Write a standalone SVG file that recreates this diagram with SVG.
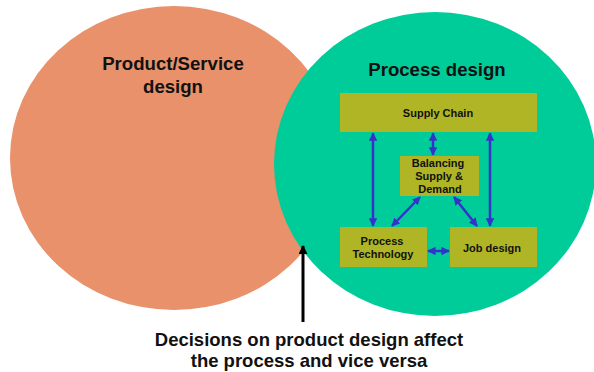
<svg xmlns="http://www.w3.org/2000/svg" width="594" height="372" viewBox="0 0 594 372">
  <style>
    .lbl { font-family: "Liberation Sans", Arial, sans-serif; font-weight: bold; fill: #111; text-anchor: middle; }
    .big { font-size: 18.6px; }
    .box { fill: #AFB525; }
    .boxtxt { font-size: 11px; }
    .cap { font-size: 18.5px; }
    .link { stroke: #3333CC; stroke-width: 2.5; fill: none; marker-start: url(#ah); marker-end: url(#ah); }
  </style>
  <defs>
    <marker id="ah" viewBox="0 0 10 10" refX="9" refY="5" markerWidth="3.4" markerHeight="3.4" orient="auto-start-reverse">
      <path d="M0,0 L10,5 L0,10 z" fill="#3333CC"/>
    </marker>
    <marker id="blackhead" viewBox="0 0 10 10" refX="9" refY="5" markerWidth="3.4" markerHeight="3" orient="auto">
      <path d="M0,0 L10,5 L0,10 z" fill="#000"/>
    </marker>
  </defs>
  <rect width="594" height="372" fill="#fff"/>

  <g id="product-service">
    <ellipse cx="174" cy="158" rx="164" ry="152" fill="#E8916B"/>
    <text class="lbl big" x="173" y="70">Product/Service</text>
    <text class="lbl big" x="173" y="93">design</text>
  </g>

  <g id="process-design">
    <ellipse cx="435" cy="164" rx="161" ry="152" fill="#00CC99"/>
    <text class="lbl big" x="437" y="76">Process design</text>
  </g>

  <g id="supply-chain">
    <rect class="box" x="340" y="93" width="197" height="39"/>
    <text class="lbl boxtxt" x="438" y="117">Supply Chain</text>
  </g>

  <g id="balancing">
    <rect class="box" x="400" y="156" width="79" height="40"/>
    <text class="lbl boxtxt" x="438" y="167">Balancing</text>
    <text class="lbl boxtxt" x="439" y="180">Supply &amp;</text>
    <text class="lbl boxtxt" x="440" y="193">Demand</text>
  </g>

  <g id="process-technology">
    <rect class="box" x="340" y="227" width="87" height="40"/>
    <text class="lbl boxtxt" x="382" y="245">Process</text>
    <text class="lbl boxtxt" x="383" y="258">Technology</text>
  </g>

  <g id="job-design">
    <rect class="box" x="450" y="227" width="87" height="40"/>
    <text class="lbl boxtxt" x="492" y="252">Job design</text>
  </g>

  <g id="connectors">
    <line class="link" x1="373" y1="133" x2="373" y2="226"/>
    <line class="link" x1="490" y1="133" x2="490" y2="226"/>
    <line class="link" x1="433" y1="133" x2="433" y2="155"/>
    <line class="link" x1="392" y1="226" x2="420" y2="197"/>
    <line class="link" x1="454" y1="197" x2="477" y2="226"/>
    <line class="link" x1="428" y1="251" x2="449" y2="251"/>
    <line x1="303" y1="322" x2="303" y2="246" stroke="#000" stroke-width="3" marker-end="url(#blackhead)"/>
  </g>

  <g id="caption">
    <text class="lbl cap" x="309" y="346">Decisions on product design affect</text>
    <text class="lbl cap" x="309" y="367">the process and vice versa</text>
  </g>
</svg>
